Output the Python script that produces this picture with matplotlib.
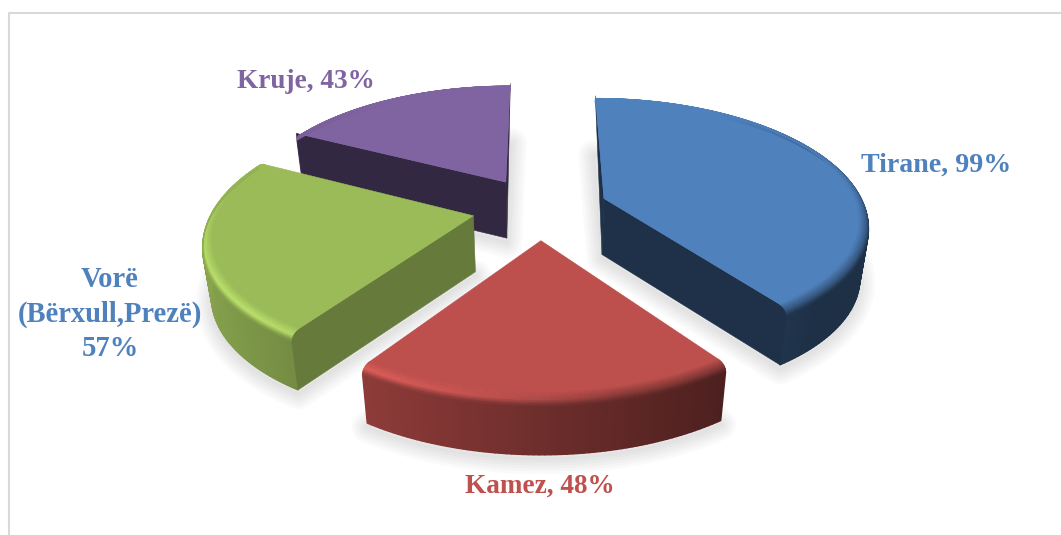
import numpy as np
import matplotlib
matplotlib.use("Agg")
import matplotlib.pyplot as plt
from matplotlib.collections import PolyCollection
from matplotlib.colors import to_rgb

NAMES = ["Tirane", "Kamez", "Vorë\n(Bërxull,Prezë)", "Kruje"]
VALUES = [99, 48, 57, 43]
FACE_COLORS = ["#4f81bd", "#bd4f4c", "#9bbb59", "#8064a2"]
LABEL_COLORS = ["#4f81bd", "#c0504d", "#4f81bd", "#8064a2"]
CUT_SHADE = [0.38, 0.45, 0.66, 0.40]

# projection of the pie plane onto the picture
CX, CY = 540, 208
SQUASH = 0.461
PERSP = 0.000596
RADIUS = 264
EXPLODE = 68
DEPTH = 56
BEVEL = 10
BEVEL_DROP = 7

FONT = "Liberation Serif"
FONT_SIZES = [20.2, 19.6, 20.6, 19.6]


def project(x, y, drop=0.0):
    s = 1 / (1 - PERSP * y)
    shrink = 1 - 0.03 * (drop / DEPTH)
    return CX + x * s * shrink, CY + SQUASH * y * s + drop


def ground(center, radius, angle):
    a = np.radians(angle)
    return center[0] + radius * np.sin(a), center[1] - radius * np.cos(a)


def mix(c1, c2, t):
    return tuple((1 - t) * p + t * q for p, q in zip(c1, c2))


def wall_color(face, angle):
    shade = max(0.37, 0.58 - 0.30 * np.sin(np.radians(angle)))
    return tuple(shade * p for p in face)


def rim_color(face, angle, t):
    # t runs from the flat top (0) to the start of the wall (1)
    a = np.radians(angle)
    side = wall_color(face, angle)
    back = np.clip(np.cos(a) + 0.15, 0, 1)
    side = mix(side, face, back)
    arg = np.radians(angle - 235) * 1.3
    light = np.clip(np.cos(arg), 0, 1) if abs(arg) < np.pi else 0.0
    bright = tuple(min(1.0, 1.2 * p) for p in face)
    peak = mix(mix(face, side, 0.5), bright, light)
    if t < 0.55:
        return mix(face, peak, t / 0.55)
    return mix(peak, side, (t - 0.55) / 0.45)


def slice_outline(center, start, end, radius, drop=0.0):
    angles = np.arange(start, end + 0.5, 1.0)
    angles[-1] = end
    pts = [project(center[0], center[1], drop)]
    for angle in angles:
        gx, gy = ground(center, radius, angle)
        pts.append(project(gx, gy, drop))
    return np.array(pts)


def draw_shadow(ax, center, start, end):
    pts = slice_outline(center, start, end, RADIUS, DEPTH)
    pts[:, 1] += 4
    for lw in range(2, 24, 4):
        ax.fill(pts[:, 0], pts[:, 1], facecolor="none", edgecolor="#777777",
                linewidth=lw, alpha=0.035, joinstyle="round", zorder=1)


def draw_cut(ax, center, angle, cut, z):
    gx, gy = ground(center, RADIUS, angle)
    apex = project(center[0], center[1])
    low_apex = project(center[0], center[1], DEPTH)
    if angle % 360 == 0:
        # the straight-back edge only shows as a thin sliver
        poly = [project(gx, gy), apex, low_apex]
    else:
        poly = [apex, project(gx, gy), project(gx, gy, DEPTH), low_apex]
    ax.fill(*zip(*poly), color=cut, linewidth=0.4, zorder=z)


def draw_slice(ax, center, start, end, face, cut_shade, order):
    cut = tuple(cut_shade * p for p in face)
    z = 2 + order
    angles = np.arange(start, end, 1.0)

    # outer wall, one small quad at a time
    quads, colors = [], []
    for angle in angles:
        next_angle = min(angle + 1.0, end)
        mid = (angle + next_angle) / 2
        if np.cos(np.radians(mid)) > 0.5:
            continue
        a0 = ground(center, RADIUS, angle)
        a1 = ground(center, RADIUS, next_angle)
        quads.append([project(*a0, BEVEL_DROP), project(*a1, BEVEL_DROP),
                      project(*a1, DEPTH), project(*a0, DEPTH)])
        colors.append(wall_color(face, mid))
    ax.add_collection(PolyCollection(quads, facecolors=colors, edgecolors=colors,
                                     linewidths=1.0, zorder=z))

    # cut faces that look towards the viewer
    if start == 0 or start >= 180:
        draw_cut(ax, center, start, cut, z)
    if end <= 180 or abs(end - 360) < 1e-6:
        draw_cut(ax, center, end, cut, z)

    # flat top
    pts = slice_outline(center, start, end, RADIUS - BEVEL)
    ax.fill(pts[:, 0], pts[:, 1], color=face, linewidth=0.4, zorder=z)

    quads, colors = [], []
    steps = np.linspace(0, 1, 9)
    for angle in angles:
        next_angle = min(angle + 1.0, end)
        mid = (angle + next_angle) / 2
        for t0, t1 in zip(steps[:-1], steps[1:]):
            r0 = RADIUS - BEVEL * (1 - np.sin(t0 * np.pi / 2))
            r1 = RADIUS - BEVEL * (1 - np.sin(t1 * np.pi / 2))
            d0 = BEVEL_DROP * (1 - np.cos(t0 * np.pi / 2))
            d1 = BEVEL_DROP * (1 - np.cos(t1 * np.pi / 2))
            quads.append([project(*ground(center, r0, angle), d0),
                           project(*ground(center, r0, next_angle), d0),
                           project(*ground(center, r1, next_angle), d1),
                           project(*ground(center, r1, angle), d1)])
            colors.append(rim_color(face, mid, (t0 + t1) / 2))
    ax.add_collection(PolyCollection(quads, facecolors=colors, edgecolors=colors,
                                     linewidths=0.6, zorder=z))


def main():
    fig = plt.figure(figsize=(10.61, 5.35), dpi=100)
    ax = fig.add_axes([0, 0, 1, 1])
    ax.set_xlim(0, 1061)
    ax.set_ylim(535, 0)
    ax.set_axis_off()

    # chart frame, cropped at the right and the bottom of the picture
    ax.plot([8.5, 8.5, 1061], [535, 12.5, 12.5], color="#d9d9d9", linewidth=1.5, zorder=0)

    total = sum(VALUES)
    sweeps = [360 * v / total for v in VALUES]
    starts = np.concatenate([[0], np.cumsum(sweeps)[:-1]])

    slices = []
    for start, sweep in zip(starts, sweeps):
        center = ground((0, 0), EXPLODE, start + sweep / 2)
        slices.append((center, start, start + sweep))

    for center, start, end in slices:
        draw_shadow(ax, center, start, end)

    # back to front
    for order, i in enumerate([3, 0, 2, 1]):
        center, start, end = slices[i]
        draw_slice(ax, center, start, end, to_rgb(FACE_COLORS[i]), CUT_SHADE[i], order)

    label_pos = [(936, 165), (540, 486), (110, 314), (306, 81)]
    for i, (name, value) in enumerate(zip(NAMES, VALUES)):
        sep = "\n" if "\n" in name else ", "
        ax.text(label_pos[i][0], label_pos[i][1], f"{name}{sep}{value}%",
                color=LABEL_COLORS[i], family=FONT, fontweight="bold",
                fontsize=FONT_SIZES[i], ha="center", va="center", linespacing=1.33,
                zorder=10)

    fig.savefig("out.png", dpi=100, facecolor="white")
    plt.close(fig)


if __name__ == "__main__":
    main()
